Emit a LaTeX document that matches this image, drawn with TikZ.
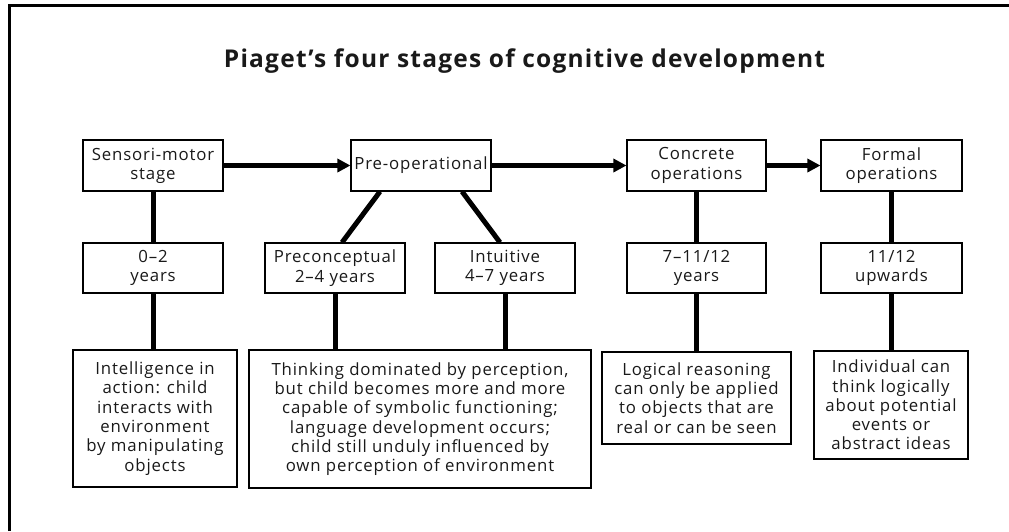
\documentclass[tikz,border=0pt]{standalone}
\usepackage{fontspec}
\setmainfont{Open Sans}[LetterSpace=5]
\usetikzlibrary{arrows.meta}
\begin{document}
\begin{tikzpicture}[x=1pt,y=-1pt,
  every node/.style={font=\fontsize{16.8}{19.3}\selectfont, text=black!90},
  box/.style={draw, line width=1.1pt, align=center, inner sep=0pt},
  link/.style={line width=5pt},
  flow/.style={line width=5pt, -{Triangle[length=13pt,width=13pt]}},
  frame/.style={line width=3pt}]
\useasboundingbox (0,0) rectangle (1009,531);
\draw[frame] (9.5,531) -- (9.5,5) -- (1009,5);
\node[font=\fontsize{24.5}{28}\selectfont\bfseries] (title) at (524.5,61) {Piaget’s four stages of cognitive development};
% top row
\node[box, minimum width=140pt, minimum height=51pt] (sens) at (153,165.5) {Sensori-motor\\stage};
\node[box, minimum width=140pt, minimum height=51pt] (pre) at (421,165.5) {Pre-operational};
\node[box, minimum width=139pt, minimum height=51pt] (conc) at (696.5,165.5) {Concrete\\operations};
\node[box, minimum width=141pt, minimum height=51pt] (form) at (891.5,165.5) {Formal\\operations};
% middle row
\node[box, minimum width=140pt, minimum height=50pt] (y02) at (153,268) {0–2\\years};
\node[box, minimum width=140pt, minimum height=50pt] (precon) at (335,268) {Preconceptual\\2–4 years};
\node[box, minimum width=140pt, minimum height=50pt] (intu) at (505,268) {Intuitive\\4–7 years};
\node[box, minimum width=139pt, minimum height=50pt] (y711) at (696.5,268) {7–11/12\\years};
\node[box, minimum width=141pt, minimum height=50pt] (y11) at (891.5,268) {11/12\\upwards};
% bottom row
\node[box, minimum width=164pt, minimum height=137pt] (intel) at (155,418.5) {Intelligence in\\action: child\\interacts with\\environment\\by manipulating\\objects};
\node[box, minimum width=342pt, minimum height=138pt] (think) at (420,419) {Thinking dominated by perception,\\but child becomes more and more\\capable of symbolic functioning;\\language development occurs;\\child still unduly influenced by\\own perception of environment};
\node[box, minimum width=189pt, minimum height=92pt] (logic) at (696.5,398) {Logical reasoning\\can only be applied\\to objects that are\\real or can be seen};
\node[box, minimum width=154pt, minimum height=108pt] (indiv) at (891,405) {Individual can\\think logically\\about potential\\events or\\abstract ideas};
% arrows
\draw[flow] (sens.east) -- (pre.west);
\draw[flow] (pre.east) -- (conc.west);
\draw[flow] (conc.east) -- (form.west);
% links
\draw[link] (sens.south) -- (y02.north);
\draw[link] (y02.south) -- (y02.south |- intel.north);
\draw[link] ([xshift=-41pt]pre.south) -- ([xshift=7pt]precon.north);
\draw[link] ([xshift=41pt]pre.south) -- ([xshift=-5pt]intu.north);
\draw[link] (precon.south) -- (precon.south |- think.north);
\draw[link] (intu.south) -- (intu.south |- think.north);
\draw[link] (conc.south) -- (y711.north);
\draw[link] (y711.south) -- (logic.north);
\draw[link] (form.south) -- (y11.north);
\draw[link] (y11.south) -- (y11.south |- indiv.north);
\end{tikzpicture}
\end{document}
